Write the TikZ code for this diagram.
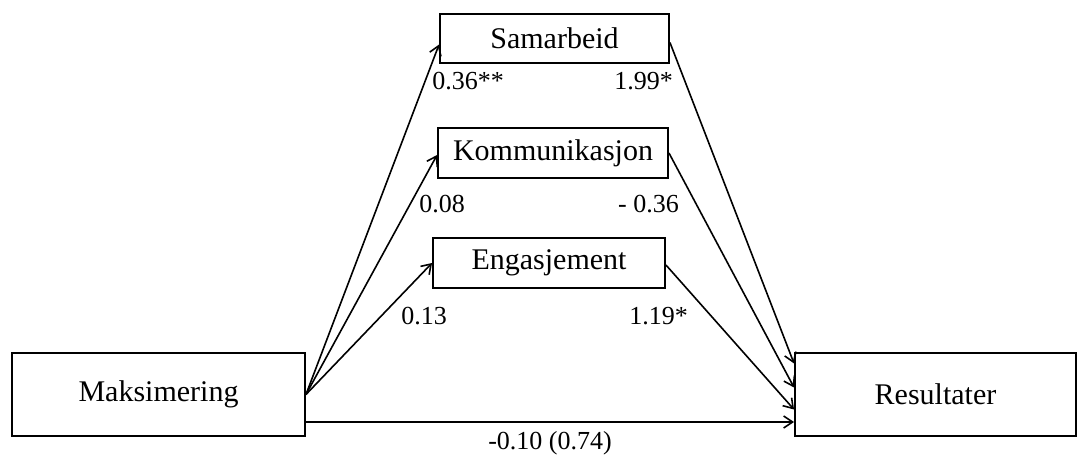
\documentclass[tikz,border=0pt]{standalone}
\usepackage{fontspec}
\setmainfont{Liberation Serif}
\usepackage{tikz}
\usetikzlibrary{positioning,arrows.meta,calc}
\tikzset{
  var/.style={draw, line width=1.9pt, inner sep=0pt, font=\fontsize{30}{36}\selectfont},
  outer/.style={var, minimum width=293pt, minimum height=83pt},
  mid/.style={var, minimum width=230pt, minimum height=50pt},
  path/.style={-{Straight Barb[length=9pt,width=12pt,line width=1.6pt]}, line width=1.6pt},
  coef/.style={font=\fontsize{26}{31}\selectfont, inner sep=0pt}
}

\begin{document}
\begin{tikzpicture}[x=1pt, y=-1pt]
\useasboundingbox (0,0) rectangle (1078,456);
\node[outer] (maks) at (158.5,394.5) {Maksimering};
\node[outer, minimum width=281pt] (res) at (935.5,394.5) {Resultater};
\node[mid, minimum width=229pt, minimum height=49pt] (sam) at (554.5,38.5) {Samarbeid};
\node[mid] (kom) at (553,153) {Kommunikasjon};
\node[mid, minimum width=232pt] (eng) at (549,263) {Engasjement};
% a-paths
\draw[path] (maks.east) -- ([yshift=-6pt]sam.west);
\draw[path] (maks.east) -- ([yshift=-2pt]kom.west);
\draw[path] (maks.east) -- (eng.west);
% b-paths
\draw[path] ([yshift=-4pt]sam.east) -- ([yshift=31pt]res.west);
\draw[path] (kom.east) -- ([yshift=7pt]res.west);
\draw[path] ([yshift=-2pt]eng.east) -- ([yshift=-15pt]res.west);
% direct path
\draw[path] ([yshift=-27.5pt]maks.east) -- node[coef, below=9pt] {-0.10 (0.74)} ([yshift=-27.5pt]res.west);
\node[coef, anchor=west] (a1) at ($(sam.south west)+(-7,17)$) {0.36**};
\node[coef, anchor=east] (b1) at ($(sam.south east)+(3,17)$) {1.99*};
\node[coef, anchor=west] (a2) at ($(kom.south west)+(-18,25)$) {0.08};
\node[coef, anchor=east] (b2) at ($(kom.south east)+(10,25)$) {- 0.36};
\node[coef, anchor=west] (a3) at ($(eng.south west)+(-31,27)$) {0.13};
\node[coef, anchor=east] (b3) at ($(eng.south east)+(22,27)$) {1.19*};
\end{tikzpicture}
\end{document}
